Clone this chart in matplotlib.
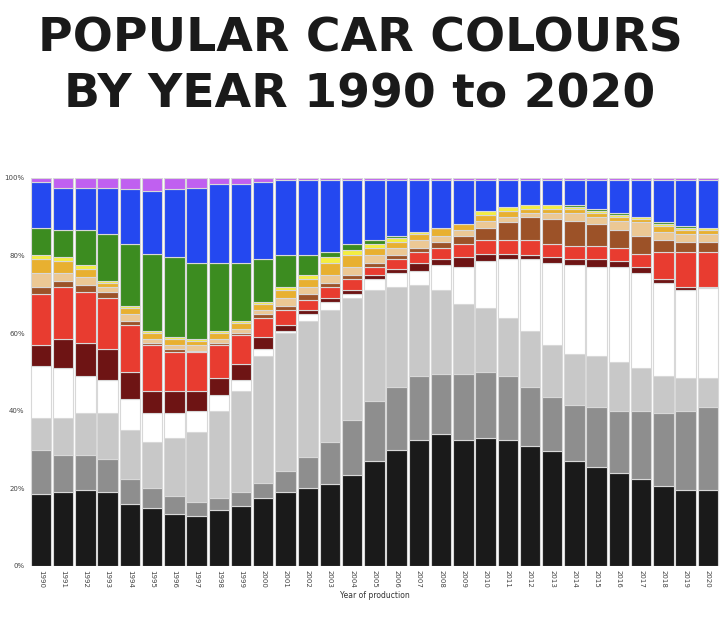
import matplotlib
matplotlib.use("Agg")
import matplotlib.pyplot as plt
import numpy as np

years = [str(y) for y in range(1990, 2021)]
# cumulative upper boundary (%) of each colour band
black_top = [18.5,19,19.5,19,16,15,13.5,13,14.5,15.5,17.5,19,20,21,23.5,27,30,32.5,34,32.5,33,32.5,31,29.5,27,25.5,24,22.5,20.5,19.5,19.5]
darkgray_top = [30,28.5,28.5,27.5,22.5,20,18,16.5,17.5,19,21.5,24.5,28,32,37.5,42.5,46,49,49.5,49.5,50,49,46,43.5,41.5,41,40,40,39.5,40,41]
lightgray_top = [38,38,39.5,39.5,35,32,33,34.5,40,45,54,60,63,66,69,71,72,72.5,71,67.5,66.5,64,60.5,57,54.5,54,52.5,51,49,48.5,48.5]
white_top = [51.5,51,49,48,43,39.5,39.5,40,44,48,56,60.5,65,68,70,74,75.5,76,77.5,77,78.5,79,79,78,77.5,77,77,75.5,73,71,71.5]
darkred_top = [57,58.5,57.5,56,50,45,45,45,48.5,52,59,62,66,69,71,75,76.5,78,79,79.5,80.5,80.5,80,79.5,79,79,78.5,77,74,72,72]
red_top = [70,72,70.5,69,62,57,55,55,57,59.5,64,66,68.5,72,74,77,79,81,82,83,84,84,84,83,82.5,82.5,82,80.5,81,81,81]
brown_top = [72,73.5,72.5,70.5,63,57.5,56,55.5,57.5,60,65,67,70,73,75,78,80,82,83.5,85,87,88.5,90,89.5,89,88,86.5,85,84,83.5,83.5]
beige_top = [75.5,75.5,74.5,72,65,58.5,57,57,58.5,61,66,69,72,75,77,80,82,84,85,86.5,89,90,91,91,91,90,89,88.5,86,85.5,85.5]
gold_top = [79,78.5,76.5,73,66.5,60,58.5,58,60,62.5,67.5,71,74,78,80,82,83.5,85.5,87,88.5,90.5,91.5,92,92,92,91,90,89.5,87.5,86.5,86.5]
yellow_top = [80,79.5,77.5,73.5,67,60.5,59,58.5,60.5,63,68,72,75,79.5,81.5,83,84.5,86.5,88,89,91.5,92.5,93,93,92.5,91.5,90.5,90,88,87,87]
green_top = [87,86.5,86.5,85.5,83,80.5,79.5,78,78,78,79,80,80,81,83,84,85,86,87,88,91.5,92.5,93,93,93,92,91,90,88.5,87.5,87]
blue_top = [99,97.5,97.5,97.5,97,96.5,97,97.5,98.5,98.5,99,99.5,99.5,99.5,99.5,99.5,99.5,99.5,99.5,99.5,99.5,99.5,99.5,99.5,99.5,99.5,99.5,99.5,99.5,99.5,99.5]
purple_top = [100]*31

layers = [black_top, darkgray_top, lightgray_top, white_top, darkred_top, red_top,
          brown_top, beige_top, gold_top, yellow_top, green_top, blue_top, purple_top]
colors = ["#1a1a1a", "#8e8e8e", "#c8c8c8", "#ffffff", "#6e1414", "#e83c30",
          "#9c5228", "#ecc894", "#e8b030", "#f4ee40", "#3c8c20", "#2448f0", "#c060f0"]

fig = plt.figure(figsize=(7.2, 6.24), dpi=100)
fig.text(0.5, 0.938, "POPULAR CAR COLOURS", ha="center", va="center",
         fontsize=34, fontweight="bold", family="DejaVu Sans", color="#1a1a1a")
fig.text(0.5, 0.848, "BY YEAR 1990 to 2020", ha="center", va="center",
         fontsize=34, fontweight="bold", family="DejaVu Sans", color="#1a1a1a")
ax = fig.add_axes([0.04, 0.093, 0.96, 0.622])
x = np.arange(len(years))
prev = np.zeros(len(years))
for top, c in zip(layers, colors):
    top = np.array(top, dtype=float)
    ax.bar(x, top - prev, bottom=prev, width=0.92, color=c,
           edgecolor="#d8d8d8", linewidth=0.8)
    prev = top
ax.set_ylim(0, 100)
ax.set_xlim(-0.55, len(years) - 0.45)
ax.set_yticks([0, 20, 40, 60, 80, 100])
ax.set_yticklabels(["0%", "20%", "40%", "60%", "80%", "100%"], fontsize=5, color="#444")
ax.set_xticks(x)
ax.set_xticklabels(years, rotation=270, fontsize=5, color="#444")
ax.tick_params(length=0, pad=3)
for s in ax.spines.values():
    s.set_visible(False)
ax.set_xlabel("Year of production", fontsize=5.5, color="#333", labelpad=2)
fig.savefig("out.png", dpi=100)
